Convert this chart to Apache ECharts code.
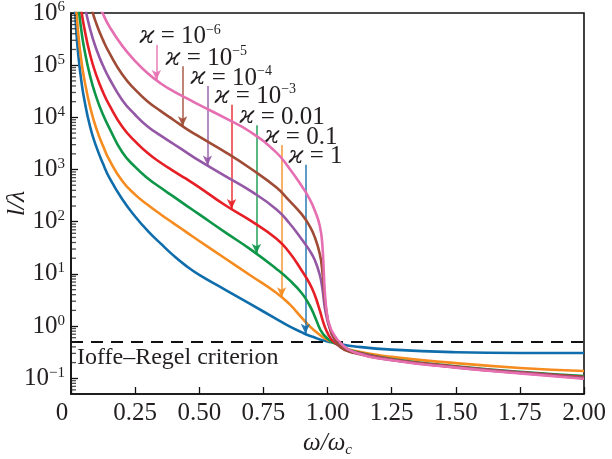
<!DOCTYPE html>
<html>
<head>
<meta charset="utf-8">
<script src="https://cdn.jsdelivr.net/npm/echarts@6/dist/echarts.min.js"></script>
<style>
  html, body { margin: 0; padding: 0; background: #fff; }
  #chart { width: 612px; height: 459px; }
</style>
</head>
<body>
<div id="chart"></div>
<script>
// Normalised frequency ω/ωc
const omega = [0.01, 0.02, 0.03, 0.04, 0.05, 0.075, 0.1, 0.125, 0.15, 0.2, 0.25, 0.3, 0.35, 0.4, 0.45, 0.5,
  0.6, 0.7, 0.8, 0.85, 0.9, 0.93, 0.95, 0.97, 0.98, 0.99, 1.0, 1.01, 1.02, 1.05, 1.1, 1.25, 1.5, 1.75, 2.0];

// l/λ for each ϰ
const lKappa1 = [4.898e6, 5.012e5, 1.318e5, 5.129e4, 2.455e4, 6457, 2630, 1288, 692, 269, 126, 66.1, 38.0, 22.4, 14.1, 9.55,
  5.01, 2.63, 1.38, 1.0, 0.759, 0.653, 0.603, 0.556, 0.537, 0.525, 0.507, 0.495, 0.484, 0.452, 0.412, 0.355, 0.316, 0.305, 0.305];
const lKappa01 = [1.318e7, 1.288e6, 3.311e5, 1.259e5, 6.026e4, 1.549e4, 5888, 2818, 1514, 603, 331, 209, 138, 93.3, 63.1, 42.7,
  19.95, 9.33, 4.37, 2.69, 1.445, 1.0, 0.813, 0.676, 0.624, 0.582, 0.543, 0.513, 0.490, 0.427, 0.339, 0.257, 0.195, 0.158, 0.138];
const lKappa001 = [4.677e7, 4.677e6, 1.230e6, 4.786e5, 2.291e5, 6.026e4, 2.344e4, 1.122e4, 6166, 2138, 1122, 676, 447, 302, 204, 138,
  63.1, 29.5, 12.6, 7.76, 4.27, 2.51, 1.549, 0.891, 0.741, 0.646, 0.575, 0.525, 0.490, 0.417, 0.331, 0.234, 0.170, 0.133, 0.110];
const lKappa1e3 = [9.772e7, 1.072e7, 2.951e6, 1.175e6, 5.754e5, 1.549e5, 6.166e4, 3.020e4, 1.698e4, 6607, 3467, 2042, 1349, 933, 661, 457,
  209, 105, 47.9, 26.3, 11.5, 6.61, 3.98, 2.0, 1.349, 0.955, 0.741, 0.603, 0.525, 0.407, 0.324, 0.229, 0.166, 0.130, 0.106];
const lKappa1e4 = [2.455e8, 2.884e7, 8.128e6, 3.311e6, 1.660e6, 4.786e5, 1.950e5, 9.772e4, 5.495e4, 2.138e4, 1.122e4, 6607, 4467, 3090, 2138, 1479,
  759, 389, 174, 95.5, 45.7, 28.2, 18.6, 9.55, 5.25, 2.19, 1.259, 0.871, 0.646, 0.398, 0.316, 0.226, 0.164, 0.129, 0.102];
const lKappa1e5 = [7.586e8, 8.913e7, 2.512e7, 1.023e7, 5.129e6, 1.479e6, 6.026e5, 3.020e5, 1.698e5, 6.607e4, 3.388e4, 1.995e4, 1.318e4, 8913, 6026, 4266,
  2188, 1047, 457, 257, 138, 83.2, 51.3, 24.0, 11.2, 3.16, 1.413, 0.912, 0.676, 0.398, 0.309, 0.224, 0.162, 0.126, 0.1];
const lKappa1e6 = [1.862e9, 2.344e8, 6.918e7, 2.884e7, 1.479e7, 4.365e6, 1.862e6, 9.550e5, 5.495e5, 2.344e5, 1.202e5, 6.918e4, 4.467e4, 3.162e4, 2.344e4, 1.738e4,
  9772, 5248, 2138, 1072, 479, 275, 166, 83.2, 35.5, 4.17, 1.445, 0.977, 0.759, 0.479, 0.324, 0.221, 0.160, 0.124, 0.0977];

// Curve annotations: label text, arrow position (ω/ωc), arrow start and arrow tip (l/λ)
const kappaNames = ['1', '0.1', '0.01', '10^−3', '10^−4', '10^−5', '10^−6'];
const arrowX = [0.914, 0.821, 0.723, 0.626, 0.532, 0.435, 0.333];
const arrowTop = [1230, 2950, 7100, 17400, 40000, 95000, 245000];
const arrowTip = [0.71, 3.56, 24.3, 175, 1194, 6780, 51900];

// Ioffe–Regel threshold
const ioffeRegel = 0.5;

// Axis ticks
const xTicks = [0, 0.25, 0.5, 0.75, 1.0, 1.25, 1.5, 1.75, 2.0];
const yDecades = [-2, -1, 0, 1, 2, 3, 4, 5];
const yMinorSteps = [2, 3, 4, 5, 6, 7, 8, 9];

const curves = [lKappa1, lKappa01, lKappa001, lKappa1e3, lKappa1e4, lKappa1e5, lKappa1e6];
const colors = ['#0f6dab', '#f68b1f', '#0d9648', '#e61e25', '#9457a6', '#a04b35', '#e56fb1'];

const SERIF = '"Liberation Serif", "Times New Roman", serif';
const TXT = '#231f20';

const minorTicks = [];
yDecades.forEach(d => yMinorSteps.forEach(m => {
  const v = m * Math.pow(10, d);
  if (v >= 0.0499 && v < 1e6) minorTicks.push([0, v]);
}));

const labelRich = {
  k: { fontFamily: '"DejaVu Serif", serif', fontStyle: 'italic', fontSize: 24, color: TXT, lineHeight: 28 },
  t: { fontFamily: SERIF, fontSize: 25, color: TXT, lineHeight: 28 },
  s: { fontFamily: SERIF, fontSize: 14, color: TXT, verticalAlign: 'top', lineHeight: 14 }
};

function kappaLabel(name) {
  const k = name.indexOf('^');
  return k < 0
    ? '{k|ϰ}{t| = ' + name + '}'
    : '{k|ϰ}{t| = ' + name.slice(0, k) + '}{s|' + name.slice(k + 1) + '}';
}

const series = curves.map((vals, i) => ({
  type: 'line',
  name: 'ϰ = ' + kappaNames[i],
  data: omega.map((w, j) => [w, vals[j]]),
  showSymbol: false,
  smooth: 0.5,
  clip: true,
  z: 3 + i,
  lineStyle: { color: colors[i], width: 2.6 },
  itemStyle: { color: colors[i] },
  markLine: {
    silent: true,
    symbol: ['none', 'arrow'],
    symbolSize: [7, 10],
    lineStyle: { color: colors[i], width: 1.5, type: 'solid', opacity: 0.9 },
    label: { show: false },
    data: [[{ coord: [arrowX[i], arrowTop[i]] }, { coord: [arrowX[i], arrowTip[i]] }]]
  },
  markPoint: {
    silent: true,
    symbol: 'circle',
    symbolSize: 0,
    data: [{ coord: [arrowX[i], arrowTop[i]] }],
    label: {
      show: true,
      position: [-17, 6],
      align: 'left',
      verticalAlign: 'bottom',
      formatter: kappaLabel(kappaNames[i]),
      rich: labelRich
    }
  }
}));

// dashed Ioffe–Regel line
series.push({
  type: 'line',
  data: [],
  z: 20,
  markLine: {
    silent: true,
    symbol: ['none', 'none'],
    lineStyle: { color: '#111', width: 2, type: [12, 8] },
    label: {
      show: true,
      position: 'insideStartBottom',
      formatter: 'Ioffe–Regel criterion',
      fontFamily: SERIF,
      fontSize: 24,
      color: TXT,
      distance: [6, 4]
    },
    data: [{ yAxis: ioffeRegel }]
  }
});

// minor ticks on the logarithmic axis
series.push({
  type: 'scatter',
  data: minorTicks,
  symbol: 'rect',
  symbolSize: [5, 1.3],
  symbolOffset: [2.5, 0],
  itemStyle: { color: '#222' },
  silent: true,
  clip: false,
  z: 30
});

const chart = echarts.init(document.getElementById('chart'), null, { renderer: 'canvas' });
chart.setOption({
  animation: false,
  backgroundColor: '#fff',
  grid: {
    left: 71, right: 28, top: 13, bottom: 65,
    outerBoundsMode: 'none', containLabel: false,
    show: true, borderColor: '#111', borderWidth: 1.6, backgroundColor: 'transparent'
  },
  xAxis: {
    type: 'value',
    min: 0, max: 2, interval: 0.25,
    name: '{i|ω/ω}{c|c}',
    nameLocation: 'middle',
    nameGap: 34,
    nameMoveOverlap: false,
    nameTextStyle: {
      rich: {
        i: { fontFamily: SERIF, fontStyle: 'italic', fontSize: 25, color: TXT, lineHeight: 30 },
        c: { fontFamily: SERIF, fontStyle: 'italic', fontSize: 15, color: TXT, verticalAlign: 'bottom', lineHeight: 22 }
      }
    },
    axisLine: { lineStyle: { color: '#111', width: 1.6 } },
    axisTick: { inside: true, length: 7, lineStyle: { color: '#111', width: 1.3 } },
    splitLine: { show: false },
    axisLabel: {
      margin: 7,
      formatter: v => xTicks.includes(v) ? (v === 0 ? '{z|0}' : v.toFixed(2)) : '',
      fontFamily: SERIF, fontSize: 25, color: TXT,
      rich: { z: { fontFamily: SERIF, fontSize: 25, color: TXT, padding: [0, 18, 0, 0] } }
    }
  },
  yAxis: {
    type: 'log',
    logBase: 10,
    min: 0.05, max: 1e6,
    name: '{i|l}{j|/λ}',
    nameLocation: 'middle',
    nameRotate: 90,
    nameGap: 41,
    nameMoveOverlap: false,
    nameTextStyle: {
      rich: {
        i: { fontFamily: SERIF, fontStyle: 'italic', fontSize: 26, color: TXT },
        j: { fontFamily: SERIF, fontStyle: 'italic', fontSize: 26, color: TXT }
      }
    },
    axisLine: { lineStyle: { color: '#111', width: 1.6 } },
    axisTick: { inside: true, length: 7, lineStyle: { color: '#111', width: 1.3 } },
    splitLine: { show: false },
    axisLabel: {
      showMinLabel: false,
      margin: 6,
      formatter: v => {
        const e = Math.round(Math.log10(v));
        if (Math.abs(Math.log10(v) - e) > 1e-6) return '';
        return '{b|10}{s|' + (e < 0 ? '−' + (-e) : e) + '}';
      },
      rich: {
        b: { fontFamily: SERIF, fontSize: 25, color: TXT, lineHeight: 26 },
        s: { fontFamily: SERIF, fontSize: 15, color: TXT, verticalAlign: 'top', lineHeight: 14 }
      }
    }
  },
  series: series
});
</script>
</body>
</html>
